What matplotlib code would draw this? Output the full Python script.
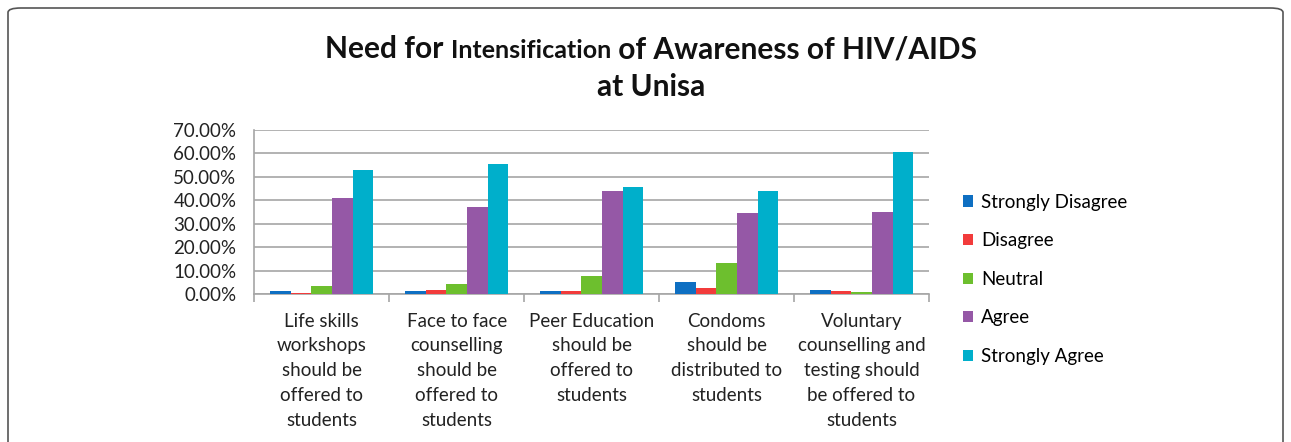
import matplotlib
matplotlib.use('Agg')
import matplotlib.pyplot as plt
from matplotlib.patches import FancyBboxPatch
from matplotlib.ticker import FuncFormatter
import numpy as np

plt.rcParams['font.family'] = ['Lato', 'DejaVu Sans']

categories = [
    'Life skills\nworkshops\nshould be\noffered to\nstudents',
    'Face to face\ncounselling\nshould be\noffered to\nstudents',
    'Peer Education\nshould be\noffered to\nstudents',
    'Condoms\nshould be\ndistributed to\nstudents',
    'Voluntary\ncounselling and\ntesting should\nbe offered to\nstudents',
]
series_names = ['Strongly Disagree', 'Disagree', 'Neutral', 'Agree', 'Strongly Agree']
strongly_disagree = [1.3, 1.3, 1.2, 4.9, 1.6]
disagree = [0.6, 1.7, 1.2, 2.6, 1.1]
neutral = [3.4, 4.4, 7.6, 13.1, 1.0]
agree = [41.1, 37.3, 43.9, 34.6, 35.0]
strongly_agree = [53.1, 55.4, 45.6, 43.9, 60.7]
colors = ['#0E6FC2', '#F23B3B', '#6DBF2E', '#9558A6', '#00AFCB']

values = [strongly_disagree, disagree, neutral, agree, strongly_agree]

fig = plt.figure(figsize=(12.91, 4.42), dpi=100)
ax = fig.add_axes([0.197, 0.335, 0.5226, 0.371])

x = np.arange(len(categories))
width = 0.153
for i, (name, vals) in enumerate(zip(series_names, values)):
    ax.bar(x + (i - 2) * width, vals, width, color=colors[i], label=name, zorder=3)

ax.set_xlim(-0.5, len(categories) - 0.5)
ax.set_ylim(0, 70)
ax.set_yticks(np.arange(0, 71, 10))
ax.yaxis.set_major_formatter(FuncFormatter(lambda v, p: f'{v:.2f}%'))
ax.grid(axis='y', color='#A6A6A6', linewidth=1.2, zorder=0)
for s in ['top', 'right']:
    ax.spines[s].set_visible(False)
for s in ['left', 'bottom']:
    ax.spines[s].set_color('#A6A6A6')
    ax.spines[s].set_linewidth(1.2)
ax.tick_params(axis='y', length=0, labelsize=13.5, colors='#222222', pad=13)
ax.set_xticks(np.arange(-0.5, len(categories), 1.0))
ax.set_xticklabels([])
ax.tick_params(axis='x', length=6, color='#A6A6A6', width=1.2)
for i, c in enumerate(categories):
    ax.text(i, -0.115, c, transform=ax.get_xaxis_transform(), ha='center', va='top',
            fontsize=13.5, color='#222222', linespacing=1.55)

ax.legend(loc='center left', bbox_to_anchor=(0.733, 0.368), bbox_transform=fig.transFigure,
          frameon=False, fontsize=13.5, handlelength=0.55, handleheight=0.55,
          handletextpad=0.4, labelspacing=1.15)

# title with a smaller "Intensification"
fig.canvas.draw()
r = fig.canvas.get_renderer()
parts = [('Need for ', 21.5), ('Intensification', 18), (' of Awareness of HIV/AIDS', 21.5)]
tmp = [fig.text(0, 0, s, fontsize=fs, fontweight='bold') for s, fs in parts]
widths = [t.get_window_extent(r).width for t in tmp]
for t in tmp:
    t.remove()
xpix = 651 - sum(widths) / 2
for (s, fs), w in zip(parts, widths):
    fig.text(xpix / 1291, 1 - 58 / 442, s, fontsize=fs, fontweight='bold', va='baseline',
             ha='left', color='#111111')
    xpix += w
fig.text(651 / 1291, 1 - 96 / 442, 'at Unisa', fontsize=21.5, fontweight='bold',
         ha='center', va='baseline', color='#111111')

border = FancyBboxPatch((8 / 1291, -0.05), 1275 / 1291, 1.05 - 8 / 442,
                        boxstyle='round,pad=0,rounding_size=0.01',
                        transform=fig.transFigure, fill=False,
                        edgecolor='#555555', linewidth=1.2)
fig.patches.append(border)

fig.savefig('out.png', dpi=100)
